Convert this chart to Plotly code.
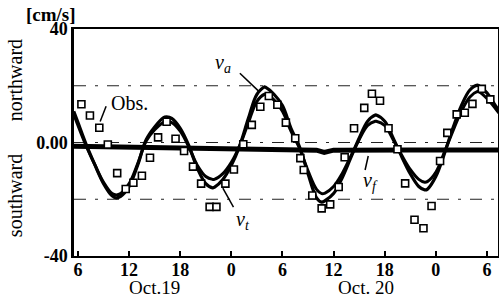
import plotly.graph_objects as go

# time axis in hours since Oct.19 00:00
hours_a = [5.5, 6, 7, 8, 9, 10, 10.5, 11, 12, 13, 14, 15, 16, 16.4, 17, 18, 19, 20, 21, 21.8, 22, 23, 24, 25,
           26, 27, 27.9, 28, 29, 30, 31, 32, 33, 34, 34.6, 35, 36, 37, 38, 39, 40, 40.9, 41, 42, 43, 44, 45, 46,
           46.7, 47, 48, 49, 50, 51, 52, 52.9, 53, 54, 55, 55.5]
v_a = [11, 7, -1, -8, -14.5, -18.8, -19.5, -19, -15.5, -8, 1, 5.5, 8.7, 9, 8.5, 5, -1, -9, -14.5, -16, -15.8,
       -13, -8, -1, 8.5, 17, 19.6, 19.5, 17, 13, 5, -1.5, -11, -19.5, -21, -20.5, -18, -12.5, -5.5, 1.5, 7.5,
       9.7, 9.7, 7.5, 1.5, -5, -11, -15.5, -16.7, -16.5, -12, -4, 5, 13, 18.5, 20.2, 20.1, 17.5, 13, 11]
v_t = [10, 6, -1.5, -8, -14, -18, -18.5, -18, -14.5, -7.5, 0.5, 4.5, 7, 7.3, 7, 4, -1.5, -8, -12, -13, -13,
       -11, -7, -1, 7, 14.5, 17, 17, 15, 11, 4, -2, -10, -16.5, -18, -17.8, -15.5, -11, -5, 1, 6, 7.5, 7.5,
       6, 1, -4.5, -9.5, -13, -14, -13.8, -10.5, -3.5, 4, 11, 16, 18, 18, 15.5, 12, 10]
hours_f = [5.5, 15, 20, 25, 30, 34, 34.9, 36, 45, 55.5]
v_f = [-1.3, -1.8, -2.0, -2.2, -2.5, -2.7, -3.5, -2.7, -2.6, -2.6]

hours_obs = [6.4, 7.4, 8.5, 9.5, 10.6, 11.6, 12.5, 13.5, 14.45, 15.4, 16.4, 17.45, 18.45, 19.5, 20.45,
             21.45, 22.25, 23.3, 24.3, 25.4, 26.4, 27.4, 28.4, 29.4, 30.4, 31.5, 32.1, 32.5, 33.5, 34.6,
             35.6, 36.6, 37.3, 38.4, 39.6, 40.5, 41.45, 42.45, 43.5, 44.4, 45.5, 46.55, 47.5, 48.5, 49.35,
             50.45, 51.4, 52.3, 53.4, 54.4]
v_obs = [13.5, 9.5, 5.2, -0.7, -10.8, -16.4, -14.2, -11.7, -5.4, 1.8, 7.3, 1.3, -3, -8.5, -14.5, -22.7,
         -22.7, -14.5, -9.5, -0.6, 6.2, 12.6, 16.4, 13.3, 7, 1.5, -5.5, -9.7, -18.7, -23.2, -21.8, -15.7,
         -5.2, 5, 12.2, 17.2, 14.7, 5, -2.4, -14.4, -27.2, -30.2, -22.4, -6.5, 3.4, 9.9, 10.5, 13.6, 18.9, 15.2]

x_tickvals = [6, 12, 18, 24, 30, 36, 42, 48, 54]
x_ticktext = ["6", "12", "18", "0", "6", "12", "18", "0", "6"]
y_tickvals = [-40, 0, 40]
y_ticktext = ["-40", "0.00", "40"]
grid_levels = [20, 0, -20]

FONT = "Liberation Serif"

fig = go.Figure()
fig.add_trace(go.Scatter(x=hours_f, y=v_f, mode="lines", line=dict(color="black", width=5),
                         showlegend=False, hoverinfo="skip"))
fig.add_trace(go.Scatter(x=hours_a, y=v_a, mode="lines", line=dict(color="black", width=3.2, shape="spline"),
                         showlegend=False))
fig.add_trace(go.Scatter(x=hours_a, y=v_t, mode="lines", line=dict(color="black", width=3, shape="spline"),
                         showlegend=False))
fig.add_trace(go.Scatter(x=hours_obs, y=v_obs, mode="markers",
                         marker=dict(symbol="square", size=7, color="white",
                                     line=dict(color="black", width=1.6)),
                         showlegend=False))

for g in grid_levels:
    fig.add_shape(type="line", xref="paper", yref="y", x0=0, x1=1, y0=g, y1=g, layer="below",
                  line=dict(color="#222", width=1, dash="12px,9px,3px,9px"))

# leader lines
leaders = [((9.3, 12.8), (8.6, 7.4)),
           ((25.0, 24.4), (27.2, 18.1)),
           ((23.0, -16.1), (24.25, -22.8)),
           ((40.07, -4.75), (39.7, -9.7))]
for (x0, y0), (x1, y1) in leaders:
    fig.add_shape(type="line", xref="x", yref="y", x0=x0, y0=y0, x1=x1, y1=y1,
                  line=dict(color="black", width=1.5))

labels = [("Obs.", 12.1, 13.9), ("<i>v</i><sub><i>a</i></sub>", 23.0, 28.0),
          ("<i>v</i><sub><i>t</i></sub>", 25.4, -27.6), ("<i>v</i><sub><i>f</i></sub>", 40.3, -13.6)]
for t, x, y in labels:
    fig.add_annotation(text=t, x=x, y=y, xref="x", yref="y", showarrow=False,
                       xanchor="center", yanchor="middle",
                       font=dict(family=FONT, size=20, color="black"))

fig.add_annotation(text="[cm/s]", x=-0.055, y=1.065, xref="paper", yref="paper", showarrow=False,
                   xanchor="center", yanchor="middle",
                   font=dict(family=FONT, size=19, color="black", weight="bold"))
fig.add_annotation(text="northward", x=-0.139, y=0.775, xref="paper", yref="paper", showarrow=False,
                   xanchor="center", yanchor="middle",
                   textangle=-90, font=dict(family=FONT, size=20, color="black"))
fig.add_annotation(text="southward", x=-0.139, y=0.264, xref="paper", yref="paper", showarrow=False,
                   xanchor="center", yanchor="middle",
                   textangle=-90, font=dict(family=FONT, size=20, color="black"))
fig.add_annotation(text="Oct.19", x=15.0, y=-0.14, xref="x", yref="paper", showarrow=False,
                   xanchor="center", yanchor="middle",
                   font=dict(family=FONT, size=19, color="black"))
fig.add_annotation(text="Oct. 20", x=39.8, y=-0.137, xref="x", yref="paper", showarrow=False,
                   xanchor="center", yanchor="middle",
                   font=dict(family=FONT, size=19, color="black"))

fig.update_layout(
    width=499, height=302,
    margin=dict(l=74, r=1, t=29, b=46),
    paper_bgcolor="white", plot_bgcolor="white",
    font=dict(family=FONT, color="black"),
)
fig.update_xaxes(range=[5.53, 55.3], tickvals=x_tickvals, ticktext=x_ticktext,
                 ticks="inside", ticklen=5, tickwidth=2, tickcolor="black",
                 showline=True, linewidth=2, linecolor="black", mirror=True,
                 showgrid=False, zeroline=False, automargin=False, ticklabelstandoff=-4,
                 tickfont=dict(family=FONT, size=18, weight="bold", color="black"))
fig.update_yaxes(range=[-40, 40], tickvals=y_tickvals, ticktext=y_ticktext,
                 ticks="", showline=True, linewidth=2.5, linecolor="black", mirror=True,
                 showgrid=False, zeroline=False, automargin=False,
                 tickfont=dict(family=FONT, size=18, weight="bold", color="black"))

fig.write_html("out.html", config={"displayModeBar": False},
               post_script="document.body.style.margin='0';")
